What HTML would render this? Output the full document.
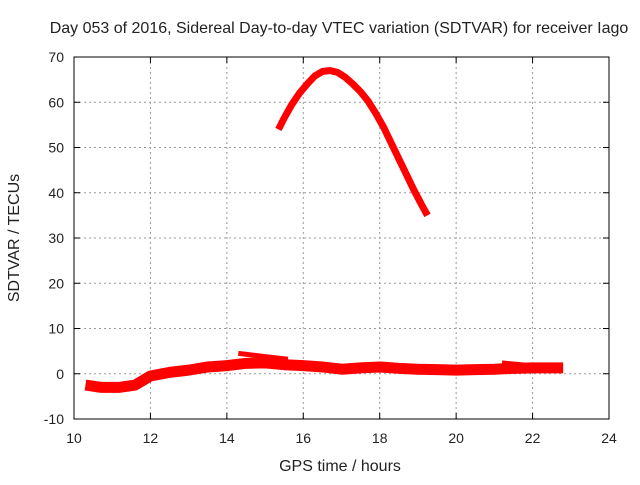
<!DOCTYPE html>
<html><head><meta charset="utf-8"><style>
body{margin:0;background:#fff;}
svg text{font-family:"Liberation Sans",sans-serif;font-size:14px;fill:#222;}
svg text.big{font-size:16px;}
</style></head><body>
<svg id="c" width="640" height="480">
<rect width="640" height="480" fill="#fff"/>
<text class="big" x="339" y="33" text-anchor="middle">Day 053 of 2016, Sidereal Day-to-day VTEC variation (SDTVAR) for receiver Iago</text>
<g id="grid"></g><g id="axes"></g><g id="series"></g>
<text class="big" x="340" y="471" text-anchor="middle">GPS time / hours</text>
<text class="big" transform="translate(19,238) rotate(-90)" text-anchor="middle">SDTVAR / TECUs</text>
</svg>
<script>
const xTicks=[10,12,14,16,18,20,22,24];
const yTicks=[-10,0,10,20,30,40,50,60,70];
const arcHours=[15.35,15.5,15.7,15.9,16.1,16.3,16.5,16.7,16.9,17.1,17.3,17.5,17.7,17.9,18.1,18.3,18.5,18.7,18.9,19.1,19.25];
const arcValues=[54,56.5,59.5,62,64,65.8,66.8,67,66.6,65.5,64,62.3,60.2,57.5,54.5,51,47.5,44,40.5,37.3,35];
const bandHours=[10.3,10.7,11.2,11.6,12,12.5,13,13.5,14,14.5,15,15.5,16,16.5,17,17.5,18,18.5,19,19.5,20,20.5,21,21.5,22,22.8];
const bandValues=[-2.5,-3,-3,-2.5,-0.5,0.3,0.8,1.5,1.8,2.3,2.4,2,1.8,1.5,1,1.3,1.5,1.2,1,0.9,0.8,0.9,1,1.2,1.3,1.3];
const spurHours=[14.3,15,15.6];
const spurValues=[4.5,3.8,3.2];
const spur2Hours=[21.2,21.8];
const spur2Values=[2.4,1.9];
const L=74,R=609,T=57,B=419;
const X=v=>L+(v-10)/(24-10)*(R-L);
const Y=v=>B-(v+10)/80*(B-T);
const NS='http://www.w3.org/2000/svg';
function mk(p,t,a){const e=document.createElementNS(NS,t);for(const k in a)e.setAttribute(k,a[k]);p.appendChild(e);return e;}
const g=document.getElementById('grid'),ax=document.getElementById('axes'),s=document.getElementById('series');
xTicks.forEach(t=>{const x=X(t);
 if(t>10&&t<24){const l=mk(g,'line',{x1:x,x2:x,y1:T,y2:B,stroke:'#999','stroke-dasharray':'2,3'});}
 mk(ax,'line',{x1:x,x2:x,y1:B,y2:B-6,stroke:'#000'});mk(ax,'line',{x1:x,x2:x,y1:T,y2:T+6,stroke:'#000'});
 const tx=mk(ax,'text',{x:x,y:B+24,'text-anchor':'middle'});tx.textContent=t;
 });
yTicks.forEach(t=>{const y=Y(t);
 if(t>-10&&t<70){const l=mk(g,'line',{x1:L,x2:R,y1:y,y2:y,stroke:'#999','stroke-dasharray':'2,3'});}
 mk(ax,'line',{x1:L,x2:L+6,y1:y,y2:y,stroke:'#000'});mk(ax,'line',{x1:R,x2:R-6,y1:y,y2:y,stroke:'#000'});
 const tx=mk(ax,'text',{x:L-10,y:y+5,'text-anchor':'end'});tx.textContent=t;
 });
const fr=mk(ax,'rect',{x:L,y:T,width:R-L,height:B-T,fill:'none',stroke:'#000','stroke-width':1});

function line(h,v,w,name){const pts=h.map((x,i)=>X(x)+','+Y(v[i])).join(' ');
 const p=mk(s,'polyline',{points:pts,fill:'none',stroke:'#f00','stroke-width':w,'stroke-linejoin':'round','stroke-linecap':'butt'});
 }
line(bandHours,bandValues,11,'sdtvar-band');
line(spurHours,spurValues,5,'sdtvar-spur');
line(spur2Hours,spur2Values,5,'sdtvar-spur-2');
line(arcHours,arcValues,7,'sdtvar-arc');
</script>
</body></html>
